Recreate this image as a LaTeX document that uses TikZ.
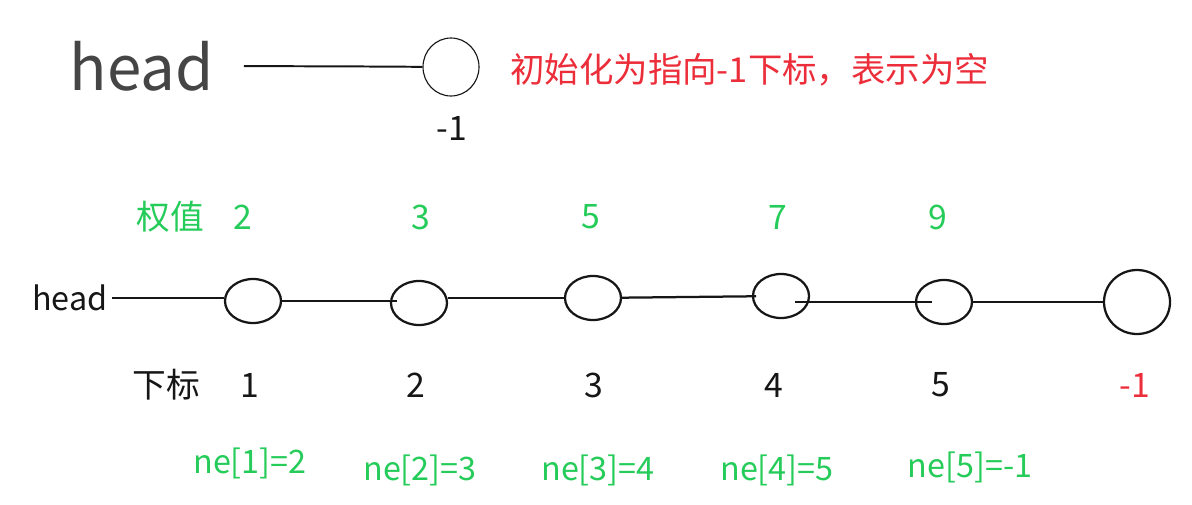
\documentclass[tikz,border=0pt]{standalone}
\usepackage{fontspec}
\setmainfont{Noto Sans CJK SC}
\usetikzlibrary{shapes.geometric}
\definecolor{grass}{RGB}{38,204,90}
\definecolor{alert}{RGB}{236,45,58}
\definecolor{ink}{RGB}{22,22,22}
\tikzset{
  slot/.style={ellipse,draw=ink,line width=1.6pt,minimum width=1.4cm,minimum height=1.1cm,inner sep=0pt},
  link/.style={draw=ink,line width=1.6pt},
  lbl/.style={font=\fontsize{24}{28}\selectfont,text=#1,inner sep=0pt},
  lbl/.default=ink,
}

\begin{document}
\begin{tikzpicture}
  \useasboundingbox (0,0) rectangle (29.8,12.6);
  % empty list
  \node[font=\fontsize{44}{50}\selectfont,text=ink!80,anchor=base] (thead) at (3.54,10.35) {head};
  \node[ellipse,draw=ink,line width=0.8pt,minimum width=1.4cm,minimum height=1.45cm,inner sep=0pt] (tnil) at (11.275,10.925) {};
  \coordinate (tj) at (8.75,10.94);
  \draw[link,line width=1.4pt,shorten <=18pt] (thead) -- (tj);
  \draw[link,line width=1.4pt] (tj) -- (tnil);
  \node[lbl,anchor=base] (tidx) at (11.3,9.1) {-1};
  \node[lbl=alert,anchor=west,font=\fontsize{24.5}{28}\selectfont] (note) at (12.75,10.85) {初始化为指向-1下标，表示为空};
  % filled list
  \node[lbl=grass] (wt) at (4.25,7.175) {权值};
  \node[lbl,font=\fontsize{23}{28}\selectfont,inner sep=3pt] (hd) at (1.75,5.15) {head};
  \node[lbl] (idx) at (4.15,2.975) {下标};
  \foreach \x/\y [count=\k] in {6.325/5.075,10.475/5.025,14.825/5.15,19.525/5.2,23.6/5.05}
    \node[slot] (c\k) at (\x,\y) {};
  \node[slot,minimum width=1.65cm,minimum height=1.6cm] (c6) at (28.425,5.05) {};
  \foreach \x/\w [count=\k] in {6.075/2,10.525/3,14.775/5,19.45/7,23.45/9}
    \node[lbl=grass] (w\k) at (\x,7.175) {\w};
  \foreach \x [count=\k] in {6.25,10.4,14.85,19.35,23.525}
    \node[lbl] (i\k) at (\x,2.975) {\k};
  \node[lbl=alert] (i6) at (28.375,2.975) {-1};
  \foreach \x/\y/\t [count=\k] in {6.25/1.025/2,10.5/0.85/3,14.95/0.85/4,19.425/0.85/5,24.25/0.925/-1}
    \node[lbl=grass,font=\fontsize{23}{28}\selectfont] (n\k) at (\x,\y) {ne[\k]=\t};
  \draw[link] (hd) -- (hd -| c1.west);
  \draw[link,shorten >=-5pt] (c1) -- (c1 -| c2.west);
  \draw[link] (c3 -| c2.east) -- (c3);
  \draw[link,shorten >=-3pt] (c3) -- (c4);
  \draw[link,shorten <=0.35cm,shorten >=0.3cm] (c5.center -| c4.center) -- (c5.center);
  \draw[link] (c5) -- (c6);
\end{tikzpicture}
\end{document}
